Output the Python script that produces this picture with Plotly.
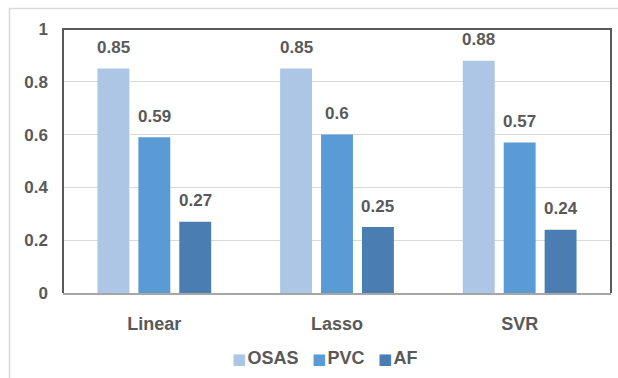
import plotly.graph_objects as go

# Model names and scores per signal type
models = ["Linear", "Lasso", "SVR"]
osas = [0.85, 0.85, 0.88]
pvc = [0.59, 0.60, 0.57]
af = [0.27, 0.25, 0.24]

series_names = ["OSAS", "PVC", "AF"]
series_values = [osas, pvc, af]
series_colors = ["#adc6e6", "#5b9bd5", "#4a7db1"]

y_ticks = [0, 0.2, 0.4, 0.6, 0.8, 1]
y_tick_text = ["0", "0.2", "0.4", "0.6", "0.8", "1"]

BARGAP = 0.328
GROUPGAP = 0.22
TEXT = "#595959"
FONT = "Liberation Sans"

x_pos = list(range(len(models)))
fig = go.Figure()
for name, vals, col in zip(series_names, series_values, series_colors):
    fig.add_trace(go.Bar(x=x_pos, y=vals, name=name, showlegend=False,
                         marker=dict(color=col, line=dict(width=0))))

# value labels above each bar
slot = (1 - BARGAP) / len(series_names)
annotations = []
for k, vals in enumerate(series_values):
    for i, v in enumerate(vals):
        annotations.append(dict(
            x=i + (k - 1) * slot, y=v, xref="x", yref="y",
            text=f"{v:g}", showarrow=False, yanchor="middle", yshift=21,
            font=dict(family=FONT, size=17, color=TEXT, weight="bold"),
        ))

# compact legend row: colored square followed by the series name
legend_x = [0.304, 0.451, 0.571]
for name, col, lx in zip(series_names, series_colors, legend_x):
    annotations.append(dict(
        x=lx, y=-0.246, xref="paper", yref="paper", xanchor="left", yanchor="middle",
        showarrow=False,
        text=(f"<span style='color:{col};font-size:15px;font-family:DejaVu Sans'>■</span>"
              f"<span style='font-size:5px'> </span>{name}"),
        font=dict(family=FONT, size=18, color=TEXT, weight="bold"),
    ))

fig.update_layout(
    width=618, height=378,
    margin=dict(l=63, r=7, t=29, b=85),
    paper_bgcolor="white", plot_bgcolor="white",
    barmode="group", bargap=BARGAP, bargroupgap=GROUPGAP,
    font=dict(family=FONT, color=TEXT),
    showlegend=False,
    xaxis=dict(
        range=[-0.5, len(models) - 0.5], tickvals=x_pos, ticktext=models,
        showgrid=False, zeroline=False, ticks="",
        showline=True, linecolor="#a6a6a6", linewidth=2,
        tickfont=dict(size=18, color=TEXT, weight="bold"), ticklabelstandoff=13,
    ),
    yaxis=dict(
        range=[0, 1], tickvals=y_ticks, ticktext=y_tick_text,
        showgrid=True, gridcolor="#d9d9d9", gridwidth=1, zeroline=False, ticks="",
        tickfont=dict(size=17, color=TEXT, weight="bold"), ticklabelstandoff=14,
    ),
    annotations=annotations,
    shapes=[
        # outer chart frame
        dict(type="rect", xref="paper", yref="paper",
             x0=(9.5 - 63) / 548, x1=1.05, y0=-0.5, y1=1 + (29 - 8.5) / 264,
             line=dict(color="#d9d9d9", width=1.5), layer="below"),
        # plot box on left, top and right
        dict(type="path", xref="paper", yref="paper",
             path="M0,0 L0,1 L1,1 L1,0",
             line=dict(color="#595959", width=2), layer="above"),
    ],
)

fig.write_html("out.html")
